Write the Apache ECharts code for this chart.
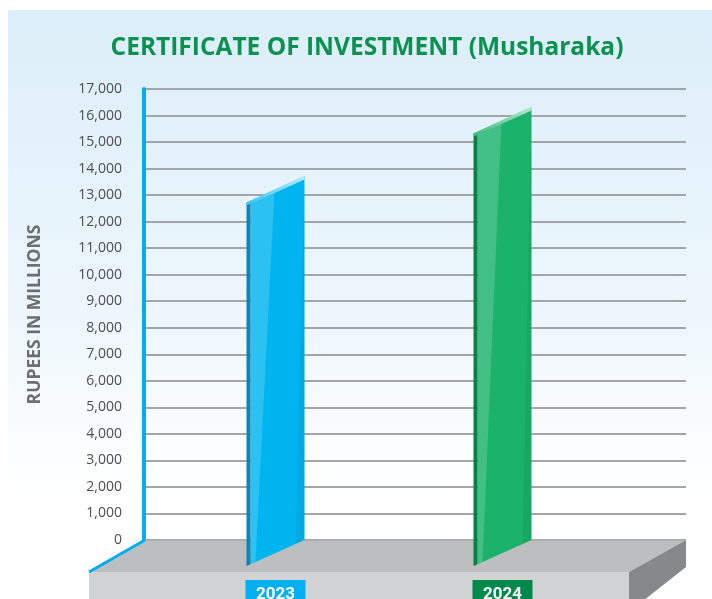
<!DOCTYPE html>
<html>
<head>
<meta charset="utf-8">
<script src="https://cdn.jsdelivr.net/npm/echarts@6/dist/echarts.min.js"></script>
<style>
  html, body { margin: 0; padding: 0; background: #ffffff; }
  #chart { width: 712px; height: 599px; }
</style>
</head>
<body>
<div id="chart"></div>
<script>
// Certificate of Investment (Musharaka), rupees in millions
const years = ['2023', '2024'];
const amounts = [13700, 16300];
const yMin = 0;
const yMax = 17000;
const yStep = 1000;

// per-year colours: face, left edge, top bevel (dark -> light), label box
const palette = [
  { face: '#00b5ef', edge: '#0a86ba', bevel: ['#3ec6f3', '#b3e9fb'], tag: '#00b0f0' },
  { face: '#1bb36b', edge: '#0a7f46', bevel: ['#3cbf7f', '#b5e7ca'], tag: '#00894b' }
];

const chart = echarts.init(document.getElementById('chart'), null, { renderer: 'canvas' });

// floor slab: a shallow box drawn under the plot area
function renderFloor(params, api) {
  const cs = params.coordSys;
  const y0 = api.coord([0, 0])[1];
  const xL = cs.x + 2, xR = cs.x + cs.width;
  const dx = -57, dy = 32, drop = 40;
  return {
    type: 'group',
    children: [
      { type: 'polygon', shape: { points: [[xL, y0], [xR, y0], [xR + dx, y0 + dy], [xL + dx, y0 + dy]] },
        style: { fill: '#bdbec0' } },
      { type: 'polygon', shape: { points: [[xL + dx, y0 + dy], [xR + dx, y0 + dy], [xR + dx, y0 + dy + drop], [xL + dx, y0 + dy + drop]] },
        style: { fill: '#d1d2d4' } },
      { type: 'polygon', shape: { points: [[xR + dx, y0 + dy], [xR, y0], [xR, y0 + 27], [xR + dx, y0 + dy + drop]] },
        style: { fill: '#87888a' } },
      { type: 'line', shape: { x1: xL, y1: y0, x2: xR, y2: y0 },
        style: { stroke: '#a9abae', lineWidth: 1.5 } },
      { type: 'line', shape: { x1: xL - 1, y1: y0, x2: xL + dx, y2: y0 + dy },
        style: { stroke: '#00aeef', lineWidth: 3 } }
    ]
  };
}

// slanted 3D bar: back-right edge stands on the value, front-left edge sits lower
function renderBar(params, api) {
  const i = api.value(0);
  const top = api.coord([i, api.value(1)]);
  const base = api.coord([i, 0]);
  const c = palette[i];
  const hw = 29, dy = 26, edge = 4;
  const k = dy / (2 * hw);
  const xr = top[0] + hw, xl = top[0] - hw;
  const tR = top[1], bR = base[1];
  const tL = tR + dy, bL = bR + dy;
  const xe = xl + edge, tE = tL - edge * k, bE = bL - edge * k;
  return {
    type: 'group',
    children: [
      { type: 'polygon', shape: { points: [[xe, tE], [xr, tR], [xr, bR], [xe, bE]] },
        style: { fill: c.face } },
      { type: 'polygon', shape: { points: [[xe, tE], [xe + 24, tE - 24 * k], [xe + 5, bE - 5 * k], [xe, bE]] },
        style: { fill: 'rgba(255,255,255,0.17)' } },
      { type: 'polygon', shape: { points: [[xr - 1, tR + 40], [xr, tR + 40], [xr, bR], [xr - 9, bR + 9 * k]] },
        style: { fill: 'rgba(0,0,0,0.06)' } },
      { type: 'polygon', shape: { points: [[xl, tL], [xe, tE], [xe, bE], [xl, bL]] },
        style: { fill: c.edge } },
      { type: 'polygon', shape: { points: [[xl, tL], [xr, tR - 1], [xr, tR + 3], [xl, tL + 3]] },
        style: {
          fill: new echarts.graphic.LinearGradient(0, 0, 1, 0, [
            { offset: 0, color: c.bevel[0] }, { offset: 1, color: c.bevel[1] }
          ])
        } }
    ]
  };
}

const tagStyle = (i) => ({
  backgroundColor: palette[i].tag, color: '#ffffff', fontSize: 17, fontWeight: 'bold',
  fontFamily: 'Roboto', width: 60, align: 'center', padding: [6, 0, 6, 0]
});

const option = {
  backgroundColor: '#ffffff',
  animation: false,
  title: {
    text: 'CERTIFICATE OF INVESTMENT (Musharaka)',
    left: 362,
    top: 31,
    textAlign: 'center',
    textStyle: { color: '#0b9150', fontSize: 24.5, fontWeight: 'bold', fontFamily: 'Open Sans' }
  },
  graphic: [
    {
      type: 'rect', z: -10, silent: true,
      shape: { x: 8, y: 10, width: 704, height: 589 },
      style: {
        fill: new echarts.graphic.LinearGradient(0, 0, 0, 1, [
          { offset: 0, color: '#dceefa' },
          { offset: 0.5, color: '#edf6fc' },
          { offset: 0.82, color: '#ffffff' },
          { offset: 1, color: '#ffffff' }
        ])
      }
    }
  ],
  grid: [
    { left: 144, right: 26, top: 89, bottom: 59, outerBoundsMode: 'none' },
    { left: 162, right: 96, top: 89, bottom: 59, outerBoundsMode: 'none' }
  ],
  xAxis: [
    { type: 'value', gridIndex: 0, min: 0, max: 1, show: false },
    {
      type: 'category', gridIndex: 1, data: years, z: 20,
      axisLine: { show: false }, axisTick: { show: false },
      axisLabel: {
        margin: 40,
        verticalAlign: 'top',
        formatter: (v, idx) => '{t' + idx + '|' + v + '}',
        rich: { t0: tagStyle(0), t1: tagStyle(1) }
      }
    }
  ],
  yAxis: [
    {
      type: 'value', gridIndex: 0, min: yMin, max: yMax, interval: yStep,
      name: 'RUPEES IN MILLIONS',
      nameLocation: 'middle',
      nameRotate: 90,
      nameGap: 100,
      nameTextStyle: { color: '#6d6e71', fontSize: 17.5, fontWeight: 'bold', fontFamily: 'Open Sans' },
      axisLine: { show: true, lineStyle: { color: '#00aeef', width: 4 } },
      axisTick: { show: false },
      axisLabel: {
        margin: 22,
        color: '#4d4d4f', fontSize: 14, fontFamily: 'Open Sans',
        formatter: v => v.toLocaleString('en-US')
      },
      splitLine: { show: true, lineStyle: { color: '#a3a5a8', width: 2 } }
    },
    { type: 'value', gridIndex: 1, min: yMin, max: yMax, interval: yStep, show: false, splitLine: { show: false } }
  ],
  series: [
    {
      type: 'custom', name: 'floor', xAxisIndex: 0, yAxisIndex: 0, z: 3,
      renderItem: renderFloor, data: [[0, 0]], silent: true, clip: false
    },
    {
      type: 'custom', name: 'Certificate of Investment', xAxisIndex: 1, yAxisIndex: 1, z: 5,
      renderItem: renderBar, clip: false,
      data: years.map((y, i) => [i, amounts[i]])
    }
  ]
};

chart.setOption(option);
</script>
</body>
</html>
